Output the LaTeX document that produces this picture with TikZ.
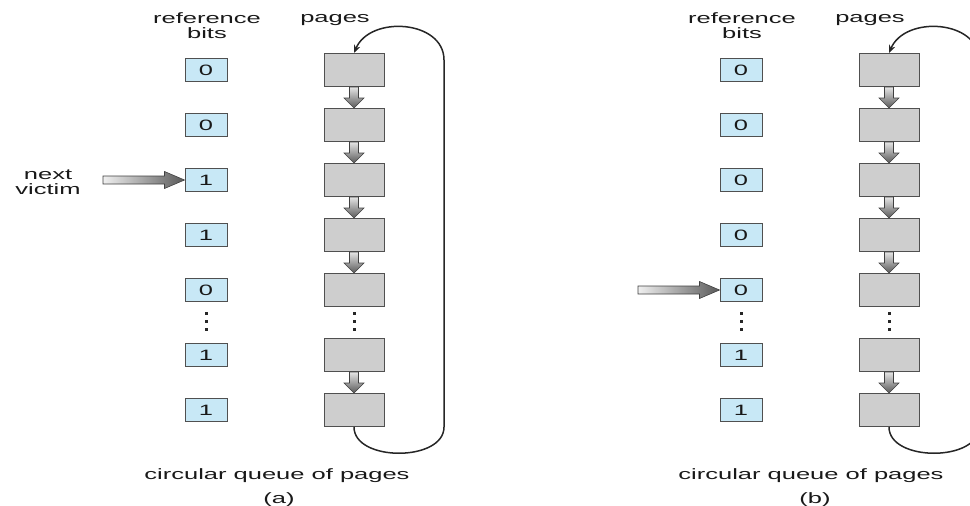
\documentclass[tikz,border=0pt]{standalone}
\usepackage{fontspec}
\setmainfont{Liberation Sans}[FakeStretch=1.7]
\usepackage{xcolor}
\usetikzlibrary{arrows.meta, positioning, calc}
\definecolor{bitBlue}{RGB}{200,232,246}
\definecolor{pageGray}{RGB}{206,206,206}
\definecolor{edgeGray}{RGB}{80,80,80}
\definecolor{darkText}{RGB}{25,25,25}
\tikzset{
    bitbox/.style={
        rectangle,
        draw=edgeGray,
        line width=1pt,
        fill=bitBlue,
        minimum width=42pt,
        minimum height=23pt,
        inner sep=0pt,
        text=darkText
    },
    pagebox/.style={
        rectangle,
        draw=edgeGray,
        line width=1pt,
        fill=pageGray,
        minimum width=60pt,
        minimum height=33pt,
        inner sep=0pt
    },
    captext/.style={inner sep=0pt, align=center, text=darkText},
    linkarrow/.style={draw=gray!50!black, line width=0.6pt, top color=gray!20, bottom color=gray!70!black},
    victimarrow/.style={draw=gray!50!black, line width=0.6pt, left color=gray!12, right color=gray!70!black},
    looparrow/.style={-{Stealth[length=8pt,width=6.5pt]}, line width=1.5pt, draw=black!85},
    dotmark/.style={fill=black!85}
}
% block arrow between two pages of the queue
\newcommand{\pagelink}[2]{%
  \shade[linkarrow] ($(#1.south)+(-4.5,0)$) -- ($(#2.north)+(-4.5,-10)$) -- ($(#2.north)+(-10,-10)$)
    -- (#2.north) -- ($(#2.north)+(10,-10)$) -- ($(#2.north)+(4.5,-10)$) -- ($(#1.south)+(4.5,0)$) -- cycle;}
% pointer to the next victim
\newcommand{\victimptr}[2]{%
  \shade[victimarrow] ($(#1)+(0,-4)$) -- ($(#2.west)+(-20,-4)$) -- ($(#2.west)+(-20,-8.5)$)
    -- (#2.west) -- ($(#2.west)+(-20,8.5)$) -- ($(#2.west)+(-20,4)$) -- ($(#1)+(0,4)$) -- cycle;}
\begin{document}
\begin{tikzpicture}[x=1pt, y=-1pt, font=\fontsize{15}{15}\selectfont]
    \useasboundingbox (0,0) rectangle (970,506);

    % (a)
    \node[captext] (refa) at (207,26) {reference\\bits};
    \node[captext, anchor=base] (pagesa) at (335,23) {pages};
    \foreach \y/\bit [count=\i] in {70/0,125/0,180/1,235/1,290/0,355/1,410/1} {
        \node[bitbox] (ra\i) at (206,\y) {\bit};
        \node[pagebox] (pa\i) at (354,\y) {};
    }
    \foreach \i/\j in {1/2,2/3,3/4,4/5,6/7} \pagelink{pa\i}{pa\j};
    \foreach \x in {206,354} \foreach \y in {313,321,329}
        \fill[dotmark] (\x-1.5,\y-1.5) rectangle +(3,3);
    \coordinate (raila) at (444,0);
    \draw[looparrow] (pa7.south) .. controls +(0,35) and +(0,35) .. (pa7.south -| raila)
        -- ($(pa1.north -| raila)+(0,7)$) .. controls +(0,-40) and +(16,-38) .. (pa1.north);
    \node[captext] (victim) at (48,182) {next\\victim};
    \coordinate (ptra) at (103,180);
    \victimptr{ptra}{ra3}
    \node[captext, anchor=base] (queuea) at (277,479) {circular queue of pages};
    \node[captext, anchor=base] (taga) at (279,503) {(a)};

    % (b)
    \node[captext] (refb) at (742,26) {reference\\bits};
    \node[captext, anchor=base] (pagesb) at (870,23) {pages};
    \foreach \y/\bit [count=\i] in {70/0,125/0,180/0,235/0,290/0,355/1,410/1} {
        \node[bitbox] (rb\i) at (741,\y) {\bit};
        \node[pagebox] (pb\i) at (889,\y) {};
    }
    \foreach \i/\j in {1/2,2/3,3/4,4/5,6/7} \pagelink{pb\i}{pb\j};
    \foreach \x in {741,889} \foreach \y in {313,321,329}
        \fill[dotmark] (\x-1.5,\y-1.5) rectangle +(3,3);
    \coordinate (railb) at (979,0);
    \draw[looparrow] (pb7.south) .. controls +(0,35) and +(0,35) .. (pb7.south -| railb)
        -- ($(pb1.north -| railb)+(0,7)$) .. controls +(0,-40) and +(16,-38) .. (pb1.north);
    \coordinate (ptrb) at (638,290);
    \victimptr{ptrb}{rb5}
    \node[captext, anchor=base] (queueb) at (811,479) {circular queue of pages};
    \node[captext, anchor=base] (tagb) at (815,503) {(b)};
\end{tikzpicture}
\end{document}
